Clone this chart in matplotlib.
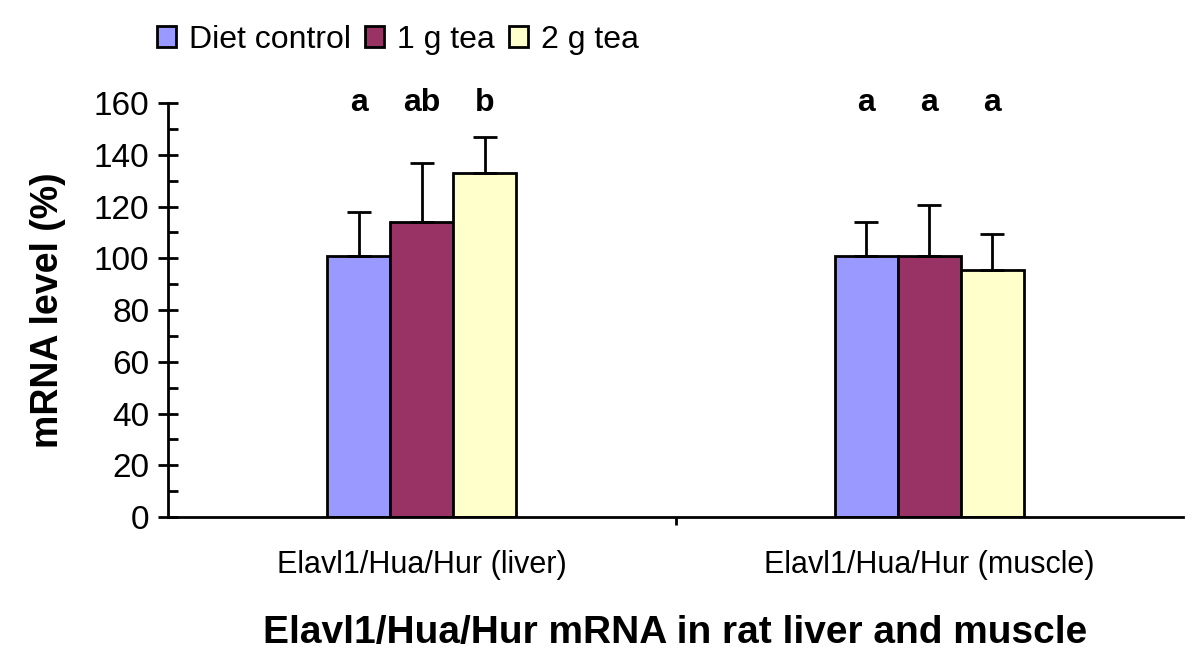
import numpy as np
import matplotlib
matplotlib.use('Agg')
import matplotlib.pyplot as plt
from matplotlib.ticker import MultipleLocator

plt.rcParams['font.family'] = ['Liberation Sans', 'DejaVu Sans']

categories = ['Elavl1/Hua/Hur (liver)', 'Elavl1/Hua/Hur (muscle)']
series = ['Diet control', '1 g tea', '2 g tea']
colors = ['#9999ff', '#993366', '#ffffcc']
means = [[101, 101], [114, 101], [133, 95.5]]
errs = [[17, 13], [23, 19.5], [14, 14]]
letters = [['a', 'a'], ['ab', 'a'], ['b', 'a']]

fig = plt.figure(figsize=(12, 6.69), dpi=100)
ax = fig.add_axes([0.14, 0.227, 0.846, 0.619])

lw = 2.0
x = np.arange(len(categories))
w = 0.124
for i in range(len(series)):
    pos = x + (i - 1) * w
    ax.bar(pos, means[i], w, color=colors[i], edgecolor='black', linewidth=lw,
           label=series[i], zorder=2)
    ax.errorbar(pos, means[i], yerr=[np.zeros(len(x)), errs[i]], fmt='none',
                ecolor='black', elinewidth=lw, capsize=8.5, capthick=lw, zorder=3)
    for j in range(len(x)):
        ax.text(pos[j], 160, letters[i][j], ha='center', va='center',
                fontsize=23, fontweight='bold')

ax.set_xlim(-0.5, 1.5)
ax.set_ylim(0, 160)
ax.yaxis.set_major_locator(MultipleLocator(20))
ax.yaxis.set_minor_locator(MultipleLocator(10))
ax.tick_params(axis='y', which='major', direction='inout', length=15, width=lw,
               labelsize=24, pad=6)
ax.tick_params(axis='y', which='minor', direction='in', length=7, width=lw)
ax.set_xticks([0.5], minor=True)
ax.set_xticks(x)
ax.set_xticklabels(categories, fontsize=22)
ax.tick_params(axis='x', which='major', length=0, pad=24)
ax.tick_params(axis='x', which='minor', direction='out', length=6, width=lw)
for s in ['top', 'right']:
    ax.spines[s].set_visible(False)
for s in ['left', 'bottom']:
    ax.spines[s].set_linewidth(lw)

ax.set_ylabel('mRNA level (%)', fontsize=27, fontweight='bold', labelpad=20)
ax.set_xlabel('Elavl1/Hua/Hur mRNA in rat liver and muscle', fontsize=28,
              fontweight='bold', labelpad=25)

fig.legend(loc='upper left', bbox_to_anchor=(0.12, 0.982), ncol=3, frameon=False,
           fontsize=23, handlelength=0.6, handleheight=0.6, handletextpad=0.4,
           columnspacing=0.45, borderaxespad=0)

fig.savefig('out.png', dpi=100)
